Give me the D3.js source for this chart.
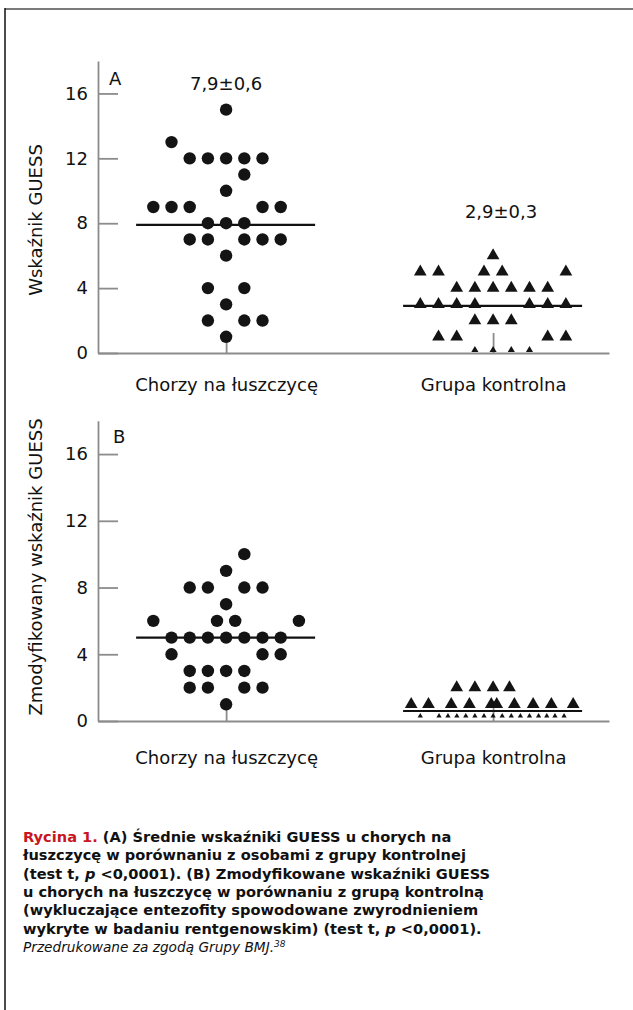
<!DOCTYPE html>
<html>
<head>
<meta charset="utf-8">
<script src="https://cdn.jsdelivr.net/npm/d3@7"></script>
<style>
  body { margin: 0; background: #fff; }
  text { font-family: "DejaVu Sans", sans-serif; }
</style>
</head>
<body>
<script>
var categories = ["Chorzy na łuszczycę", "Grupa kontrolna"];
var yTicks = [0, 4, 8, 12, 16];

// [value, column] per subject
var aPatients = [[15,0],[13,-3],[12,-2],[12,-1],[12,0],[12,1],[12,2],[11,1],[10,0],
  [9,-4],[9,-3],[9,-2],[9,2],[9,3],[8,-1],[8,0],[8,1],[7,-2],[7,-1],[7,1],[7,2],[7,3],
  [6,0],[4,-1],[4,1],[3,0],[2,-1],[2,1],[2,2],[1,0]];
var aControls = [[6,0],[5,-4],[5,-3],[5,-0.5],[5,0.5],[5,4],[4,-2],[4,-1],[4,0],[4,1],[4,2],[4,3],
  [3,-4],[3,-3],[3,-2],[3,-1],[3,2],[3,3],[3,4],[2,-1],[2,0],[2,1],[1,-3],[1,-2],[1,3],[1,4],
  [0,-1],[0,0],[0,1],[0,2]];
var bPatients = [[10,1],[9,0],[8,-2],[8,-1],[8,1],[8,2],[7,0],[6,-4],[6,-0.5],[6,0.5],[6,4],
  [5,-3],[5,-2],[5,-1],[5,0],[5,1],[5,2],[5,3],[4,-3],[4,2],[4,3],[3,-2],[3,-1],[3,0],[3,1],
  [2,-2],[2,-1],[2,1],[2,2],[1,0]];
var bControls = [[2,-2],[2,-1],[2,0],[2,0.9],
  [1,-4.5],[1,-3.55],[1,-2.3],[1,-1.3],[1,-0.1],[1,0.2],[1,1.17],[1,2.2],[1,3.2],[1,4.4],
  [0,-4],[0,-2.97],[0,-2.48],[0,-1.99],[0,-1.5],[0,-1],[0,-0.5],[0,0],[0,0.5],[0,1],[0,1.5],
  [0,2],[0,2.5],[0,2.95],[0,3.4],[0,3.9]];
var aMeans = [7.9, 2.9];
var bMeans = [5.0, 0.6];
var aLabels = ["7,9±0,6", "2,9±0,3"];

var svg = d3.select("body").append("svg")
  .attr("width", 633)
  .attr("height", 1010);

// frame
svg.append("line").attr("x1", 5).attr("x2", 633).attr("y1", 9).attr("y2", 9)
  .attr("stroke", "#7a7a7a").attr("stroke-width", 2);
svg.append("line").attr("x1", 5).attr("x2", 5).attr("y1", 8).attr("y2", 1010)
  .attr("stroke", "#111").attr("stroke-width", 1.5);

var x = d3.scalePoint().domain(categories).range([98, 609]).padding(0.457).align(0.525);
var col = d3.scaleLinear().domain([0, 1]).range([0, 18.2]);

function drawPanel(p) {
  var y = d3.scaleLinear().domain([0, 18]).range([p.bottom, p.top]);
  var g = svg.append("g");

  var yAxis = g.append("g").attr("transform", "translate(98,0)")
    .call(d3.axisLeft(y).tickValues(yTicks).tickSizeInner(-20).tickSizeOuter(0).tickPadding(10));
  var xAxis = g.append("g").attr("transform", "translate(0," + p.bottom + ")")
    .call(d3.axisBottom(x).tickSizeInner(-20).tickSizeOuter(0).tickPadding(p.catPad));
  [yAxis, xAxis].forEach(function(a) {
    a.select(".domain").attr("stroke", "#8c8c8c").attr("stroke-width", 1.8);
    a.selectAll(".tick line").attr("stroke", "#8c8c8c").attr("stroke-width", 1.8);
    a.selectAll(".tick text").attr("fill", "#111").style("font-size", "18px")
      .style("font-family", "DejaVu Sans");
  });

  g.append("text").attr("x", p.letterX).attr("y", p.letterY).text(p.letter)
    .style("font-size", "18px").attr("fill", "#111");

  g.append("text")
    .attr("transform", "translate(42," + p.labelY + ") rotate(-90)")
    .attr("text-anchor", "middle").style("font-size", "18px").attr("fill", "#111")
    .text(p.yLabel);

  // mean lines
  g.selectAll(".mean").data(p.means).enter().append("line")
    .attr("x1", function(d, i) { return x(categories[i]) - 90; })
    .attr("x2", function(d, i) { return x(categories[i]) + 89; })
    .attr("y1", function(d) { return y(d); })
    .attr("y2", function(d) { return y(d); })
    .attr("stroke", "#111").attr("stroke-width", 2.2);

  var cx0 = x(categories[0]), cx1 = x(categories[1]);

  g.selectAll(".dot").data(p.patients).enter().append("circle")
    .attr("cx", function(d) { return cx0 + col(d[1]); })
    .attr("cy", function(d) { return y(d[0]); })
    .attr("r", 6.2).attr("fill", "#141414");

  var big = d3.symbol().type(d3.symbolTriangle).size(70);
  var small = d3.symbol().type(d3.symbolTriangle).size(p.zeroSize);
  g.selectAll(".tri").data(p.controls).enter().append("path")
    .attr("d", function(d) { return d[0] === 0 ? small() : big(); })
    .attr("transform", function(d) {
      var ty = d[0] === 0 ? y(0) - p.zeroLift : y(d[0]);
      return "translate(" + (cx1 + col(d[1])) + "," + ty + ")";
    })
    .attr("fill", "#141414");

  if (p.annot) {
    g.append("text").attr("x", cx0).attr("y", y(16.2)).attr("text-anchor", "middle")
      .style("font-size", "18px").attr("fill", "#111").text(p.annot[0]);
    g.append("text").attr("x", cx1 + 8).attr("y", y(8.3)).attr("text-anchor", "middle")
      .style("font-size", "18px").attr("fill", "#111").text(p.annot[1]);
  }
}

drawPanel({ top: 61, bottom: 353, catPad: 25, letter: "A", letterX: 109, letterY: 85,
  yLabel: "Wskaźnik GUESS", labelY: 220, means: aMeans, patients: aPatients,
  controls: aControls, zeroSize: 22, zeroLift: 3, annot: aLabels });
drawPanel({ top: 420.7, bottom: 721, catPad: 30, letter: "B", letterX: 113, letterY: 443,
  yLabel: "Zmodyfikowany wskaźnik GUESS", labelY: 567, means: bMeans, patients: bPatients,
  controls: bControls, zeroSize: 12, zeroLift: 5, annot: null });

// caption
var caption = [
  [["Rycina 1. ", "red"], ["(A) Średnie wskaźniki GUESS u chorych na", ""]],
  [["łuszczycę w porównaniu z osobami z grupy kontrolnej", ""]],
  [["(test t, ", ""], ["p", "it"], [" <0,0001). (B) Zmodyfikowane wskaźniki GUESS", ""]],
  [["u chorych na łuszczycę w porównaniu z grupą kontrolną", ""]],
  [["(wykluczające entezofity spowodowane zwyrodnieniem", ""]],
  [["wykryte w badaniu rentgenowskim) (test t, ", ""], ["p", "it"], [" <0,0001).", ""]]
];
caption.forEach(function(line, i) {
  var t = svg.append("text").attr("x", 23).attr("y", 842 + i * 18.3)
    .style("font-size", "14.6px").style("font-weight", "bold").attr("fill", "#111");
  line.forEach(function(s) {
    t.append("tspan").text(s[0])
      .attr("fill", s[1] === "red" ? "#c8161d" : "#111")
      .style("font-style", s[1] === "it" ? "italic" : "normal");
  });
});
var src = svg.append("text").attr("x", 23).attr("y", 952)
  .style("font-size", "13.7px").style("font-style", "italic").attr("fill", "#111");
src.append("tspan").text("Przedrukowane za zgodą Grupy BMJ.");
src.append("tspan").text("38").attr("dy", -5).style("font-size", "9px");
</script>
</body>
</html>
